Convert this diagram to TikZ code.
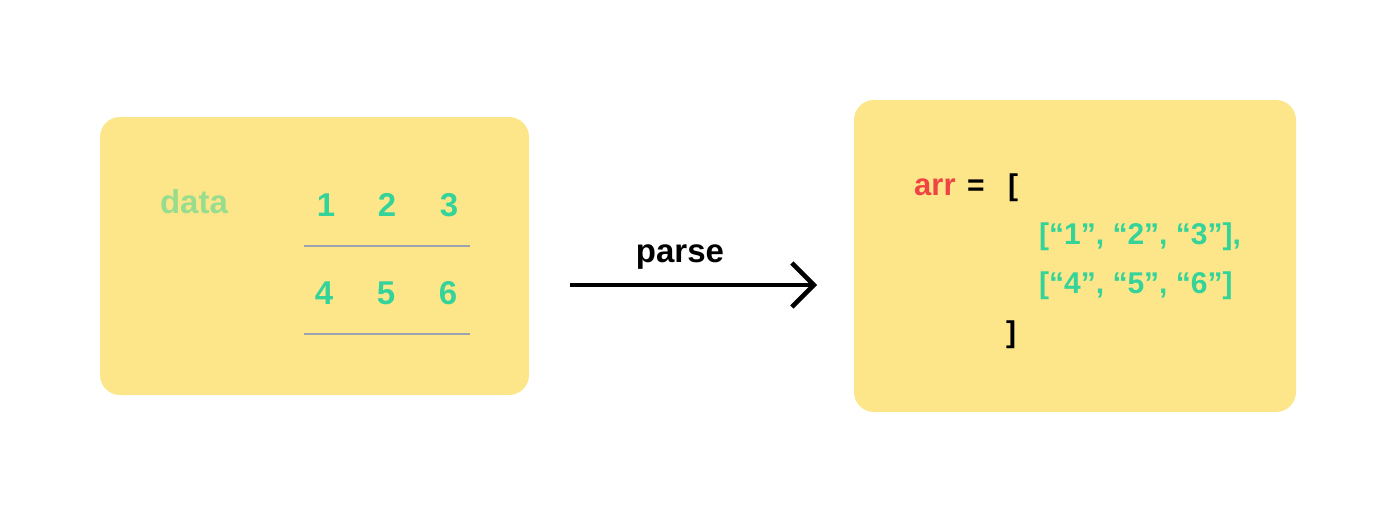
\documentclass[tikz,border=0pt]{standalone}
\usepackage{fontspec}
\setmainfont{Liberation Sans}
\usetikzlibrary{arrows.meta}
\definecolor{boxyellow}{HTML}{FDE68A}
\definecolor{numgreen}{HTML}{34D399}
\definecolor{datagreen}{HTML}{98DD8E}
\definecolor{arrred}{HTML}{EF4444}
\definecolor{rulegrey}{HTML}{9CA3AF}
\tikzset{
  panel/.style={fill=boxyellow, draw=none, rounded corners=20pt},
  txt/.style={inner sep=0pt, anchor=base west, font=\fontsize{30}{36}\selectfont\bfseries},
  big/.style={inner sep=0pt, anchor=base, font=\fontsize{33}{38}\selectfont\bfseries},
  num/.style={big, text=numgreen},
  rowrule/.style={draw=rulegrey, line width=1.5pt},
  flow/.style={line width=4.5pt, -{Straight Barb[length=22pt,width=44pt]}}
}
\begin{document}
\begin{tikzpicture}[x=1pt,y=-1pt]
\useasboundingbox (0,0) rectangle (1396,512);
% left panel
\path[panel] (100,117) rectangle (529,395);
\node[big, text=datagreen] (data) at (194,213) {data};
\node[num] (n1) at (326,216) {1};
\node[num] (n2) at (387,216) {2};
\node[num] (n3) at (449,216) {3};
\node[num] (n4) at (324,304) {4};
\node[num] (n5) at (386,304) {5};
\node[num] (n6) at (448,304) {6};
\coordinate (r1a) at (304,246); \coordinate (r1b) at (470,246);
\coordinate (r2a) at (304,334); \coordinate (r2b) at (470,334);
\draw[rowrule] (r1a) -- (r1b);
\draw[rowrule] (r2a) -- (r2b);
% arrow
\coordinate (as) at (570,285);
\coordinate (ae) at (817,285);
\draw[flow] (as) -- (ae);
\node[big] (parse) at (680,262) {parse};
% right panel
\path[panel] (854,100) rectangle (1296,412);
\node[txt, text=arrred, font=\fontsize{31}{36}\selectfont\bfseries] (arr) at (914,195) {arr};
\node[txt] (eq) at (967,195) {=};
\node[txt] (lb) at (1008,195) {[};
\node[txt, text=numgreen] (row1) at (1039,244) {[“1”, “2”, “3”],};
\node[txt, text=numgreen] (row2) at (1039,293) {[“4”, “5”, “6”]};
\node[txt] (rb) at (1006,342) {]};
\end{tikzpicture}
\end{document}
